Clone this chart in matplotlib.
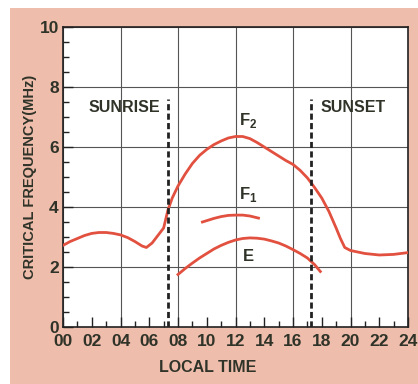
import numpy as np
from matplotlib import pyplot as plt
from matplotlib.patches import Rectangle

# ===== Dados (horas locais x frequência crítica em MHz) =====

horas_f2 = [0, 0.5, 1, 1.5, 2, 2.5, 3, 3.5, 4, 4.5, 5, 5.5, 5.8, 6.2, 6.6, 7.0,
            7.3, 7.6, 8, 8.5, 9, 9.5, 10, 10.5, 11, 11.5, 12, 12.5, 13, 13.5,
            14, 14.5, 15, 15.5, 16, 16.5, 17, 17.5, 18, 18.5, 19, 19.3, 19.6,
            20, 21, 22, 23, 24]
freq_f2 = [2.72, 2.85, 2.95, 3.05, 3.12, 3.15, 3.15, 3.12, 3.07, 2.98, 2.85,
           2.7, 2.65, 2.8, 3.05, 3.3, 3.9, 4.3, 4.7, 5.1, 5.45, 5.72, 5.92,
           6.08, 6.2, 6.3, 6.35, 6.35, 6.28, 6.15, 6.0, 5.85, 5.7, 5.55, 5.42,
           5.22, 4.97, 4.65, 4.3, 3.85, 3.3, 2.95, 2.65, 2.55, 2.45, 2.4, 2.42,
           2.48]

horas_f1 = [9.7, 10.5, 11, 11.5, 12, 12.5, 13, 13.6]
freq_f1 = [3.5, 3.62, 3.68, 3.72, 3.73, 3.73, 3.7, 3.63]

horas_e = [8.0, 8.5, 9, 9.5, 10, 10.5, 11, 11.5, 12, 12.5, 13, 13.5, 14, 14.5,
           15, 15.5, 16, 16.5, 17, 17.5, 17.9]
freq_e = [1.75, 1.95, 2.13, 2.3, 2.45, 2.6, 2.72, 2.82, 2.9, 2.95, 2.97, 2.96,
          2.93, 2.87, 2.8, 2.7, 2.58, 2.45, 2.3, 2.08, 1.85]

nascer, por = 7.3, 17.25
rotulos_x = ['00', '02', '04', '06', '08', '10', '12', '14', '16', '18', '20', '22', '24']

# ===== Plotagem =====

plt.rcParams['font.family'] = ['Liberation Sans', 'DejaVu Sans']
plt.rcParams['font.weight'] = 'bold'
plt.rcParams['axes.labelweight'] = 'bold'
plt.rcParams['mathtext.fontset'] = 'custom'
plt.rcParams['mathtext.rm'] = 'Liberation Sans:bold'
texto = '#2f3328'
vermelho = '#e2503f'

fig = plt.figure(figsize=(4.18, 3.84), dpi=100, facecolor='white')
fig.patches.append(Rectangle((10/418, 0), 1, (384-8)/384, transform=fig.transFigure,
                             facecolor='#efbdac', edgecolor='none', zorder=-1))
ax = fig.add_axes([63/418, 57/384, 345/418, 300/384])
ax.set_facecolor('white')

# grade
for x in range(0, 25, 4):
    ax.axvline(x, color='#555555', lw=0.8, zorder=1)
for y in range(0, 11, 2):
    ax.axhline(y, color='#555555', lw=0.8, zorder=1)

ax.plot(horas_f2, freq_f2, color=vermelho, lw=2, zorder=3)
ax.plot(horas_f1, freq_f1, color=vermelho, lw=2, zorder=3)
ax.plot(horas_e, freq_e, color=vermelho, lw=2, zorder=3)

for h in (nascer, por):
    ax.plot([h, h], [0, 7.6], color='#222222', lw=2, ls=(0, (2.2, 1.2)), zorder=4)

ax.text(4.3, 7.3, 'SUNRISE', color=texto, fontsize=11.5, ha='center', va='center')
ax.text(20.2, 7.3, 'SUNSET', color=texto, fontsize=11.5, ha='center', va='center')
ax.text(12.9, 6.9, r'F$_\mathrm{2}$', color=texto, fontsize=12, ha='center', va='center')
ax.text(12.9, 4.4, r'F$_\mathrm{1}$', color=texto, fontsize=12, ha='center', va='center')
ax.text(12.9, 2.35, 'E', color=texto, fontsize=12, ha='center', va='center')

ax.set_xlim(0, 24)
ax.set_ylim(0, 10)
ax.set_xticks(range(0, 25, 2))
ax.set_xticklabels(rotulos_x)
ax.set_xticks(range(0, 25), minor=True)
ax.set_yticks(range(0, 11, 2))
ax.set_yticks(np.arange(0, 10.5, 0.5), minor=True)
ax.tick_params(which='both', direction='in', colors='#222222', labelcolor=texto,
               labelsize=12.5, width=1)
ax.tick_params(axis='x', which='major', pad=5)
ax.tick_params(axis='y', which='major', pad=3)
ax.tick_params(which='major', length=7)
ax.tick_params(which='minor', length=4)

for s in ax.spines.values():
    s.set_color('#222222')
    s.set_linewidth(1.2)

ax.set_xlabel('LOCAL TIME', color=texto, fontsize=11.5)
ax.set_ylabel('CRITICAL FREQUENCY(MHz)', color=texto, fontsize=10.5)
ax.xaxis.set_label_coords(0.42, -0.11)
ax.yaxis.set_label_coords(-0.075, 0.5)

fig.savefig('out.png', dpi=100)
